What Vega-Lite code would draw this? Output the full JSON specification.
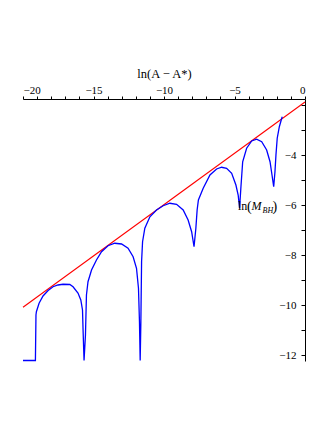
{
  "$schema": "https://vega.github.io/schema/vega-lite/v6.json",
  "autosize": "none",
  "width": 282,
  "height": 262,
  "padding": {"left": 23, "top": 99, "right": 27, "bottom": 69},
  "background": "white",
  "config": {
    "view": {"stroke": null},
    "font": "Liberation Serif",
    "axis": {"grid": false, "domainColor": "black", "tickColor": "black", "labelColor": "black", "titleColor": "black", "labelFont": "Liberation Serif", "titleFont": "Liberation Serif", "labelFontSize": 11, "titleFontWeight": "normal", "labelOverlap": false, "labelBound": false}
  },
  "datasets": {
    "mbh": [
      {"x": -20.0, "y": -12.22},
      {"x": -19.12, "y": -12.22},
      {"x": -19.08, "y": -10.4},
      {"x": -19.05, "y": -10.27},
      {"x": -18.86, "y": -9.93},
      {"x": -18.58, "y": -9.64},
      {"x": -18.22, "y": -9.42},
      {"x": -17.87, "y": -9.27},
      {"x": -17.52, "y": -9.2},
      {"x": -17.16, "y": -9.17},
      {"x": -16.68, "y": -9.18},
      {"x": -16.45, "y": -9.27},
      {"x": -16.1, "y": -9.52},
      {"x": -15.9, "y": -9.8},
      {"x": -15.78, "y": -10.2},
      {"x": -15.74, "y": -11.0},
      {"x": -15.67, "y": -12.22},
      {"x": -15.57, "y": -11.2},
      {"x": -15.5, "y": -9.6},
      {"x": -15.39, "y": -9.07},
      {"x": -15.14, "y": -8.6},
      {"x": -14.79, "y": -8.2},
      {"x": -14.43, "y": -7.87},
      {"x": -13.97, "y": -7.63},
      {"x": -13.49, "y": -7.53},
      {"x": -13.01, "y": -7.56},
      {"x": -12.55, "y": -7.73},
      {"x": -12.19, "y": -8.07},
      {"x": -11.95, "y": -8.53},
      {"x": -11.81, "y": -9.33},
      {"x": -11.74, "y": -10.67},
      {"x": -11.69, "y": -12.22},
      {"x": -11.64, "y": -10.67},
      {"x": -11.59, "y": -8.27},
      {"x": -11.52, "y": -7.47},
      {"x": -11.36, "y": -6.93},
      {"x": -11.0, "y": -6.47},
      {"x": -10.53, "y": -6.2},
      {"x": -10.06, "y": -6.03},
      {"x": -9.58, "y": -5.93},
      {"x": -9.11, "y": -5.97},
      {"x": -8.64, "y": -6.2},
      {"x": -8.29, "y": -6.6},
      {"x": -8.04, "y": -7.07},
      {"x": -7.87, "y": -7.67},
      {"x": -7.74, "y": -6.93},
      {"x": -7.65, "y": -6.2},
      {"x": -7.56, "y": -5.8},
      {"x": -7.22, "y": -5.33},
      {"x": -6.74, "y": -4.8},
      {"x": -6.27, "y": -4.56},
      {"x": -5.91, "y": -4.49},
      {"x": -5.56, "y": -4.53},
      {"x": -5.2, "y": -4.73},
      {"x": -4.9, "y": -5.2},
      {"x": -4.74, "y": -5.6},
      {"x": -4.64, "y": -6.13},
      {"x": -4.55, "y": -5.33},
      {"x": -4.42, "y": -4.27},
      {"x": -4.14, "y": -3.73},
      {"x": -3.78, "y": -3.44},
      {"x": -3.43, "y": -3.37},
      {"x": -3.07, "y": -3.47},
      {"x": -2.72, "y": -3.8},
      {"x": -2.48, "y": -4.27},
      {"x": -2.34, "y": -4.8},
      {"x": -2.22, "y": -5.27},
      {"x": -2.13, "y": -4.67},
      {"x": -2.06, "y": -4.0},
      {"x": -1.97, "y": -3.33},
      {"x": -1.82, "y": -2.87},
      {"x": -1.65, "y": -2.53},
      {"x": -1.61, "y": -2.47}
    ],
    "fit": [
      {"x": -20.0, "y": -10.09},
      {"x": 0.0, "y": -1.88}
    ]
  },
  "layer": [
    {
      "encoding": {
        "x": {"field": "x", "type": "quantitative", "scale": {"domain": [-20, 0], "nice": false, "zero": false},
          "axis": {"orient": "top", "values": [-20,-19,-18,-17,-16,-15,-14,-13,-12,-11,-10,-9,-8,-7,-6,-5,-4,-3,-2,-1,0],
            "labelExpr": "datum.value % 5 == 0 ? datum.label : ''", "tickSize": 3, "labelPadding": 1,
            "title": "ln(A − A*)", "titleFontSize": 12.5, "titlePadding": 4}},
        "y": {"field": "y", "type": "quantitative", "scale": {"domain": [-12.24, -1.76], "nice": false, "zero": false},
          "axis": {"orient": "left", "offset": -282, "values": [-12,-11,-10,-9,-8,-7,-6,-5,-4,-3,-2],
            "labelExpr": "datum.value % 2 == 0 && datum.value != -2 ? datum.label : ''", "tickSize": 4, "labelPadding": 5,
            "title": null}}
      },
      "layer": [
        {
          "data": {"name": "fit"},
          "mark": {"type": "line", "color": "#ff0000", "strokeWidth": 1.1}
        },
        {
          "data": {"name": "mbh"},
          "mark": {"type": "line", "color": "#0000ff", "strokeWidth": 1.3}
        }
      ]
    },
    {
      "data": {"values": [{}]},
      "encoding": {
        "x": {"datum": -4.75, "type": "quantitative",
          "axis": {"orient": "top", "values": [-20,-19,-18,-17,-16,-15,-14,-13,-12,-11,-10,-9,-8,-7,-6,-5,-4,-3,-2,-1,0],
            "labelExpr": "datum.value % 5 == 0 ? datum.label : ''", "tickSize": 3, "labelPadding": 1,
            "title": "ln(A − A*)", "titleFontSize": 12.5, "titlePadding": 4}},
        "y": {"datum": -6.2, "type": "quantitative",
          "axis": {"orient": "left", "offset": -282, "values": [-12,-11,-10,-9,-8,-7,-6,-5,-4,-3,-2],
            "labelExpr": "datum.value % 2 == 0 && datum.value != -2 ? datum.label : ''", "tickSize": 4, "labelPadding": 5,
            "title": null}}
      },
      "layer": [
        {"mark": {"type": "text", "text": "ln", "align": "left", "baseline": "alphabetic", "font": "Liberation Serif", "fontSize": 12, "color": "black"}},
        {"mark": {"type": "text", "text": "(", "align": "left", "baseline": "alphabetic", "dx": 9, "dy": 1, "font": "Liberation Serif", "fontSize": 14, "color": "black"}},
        {"mark": {"type": "text", "text": "M", "align": "left", "baseline": "alphabetic", "dx": 13.5, "font": "Liberation Serif", "fontStyle": "italic", "fontSize": 12, "color": "black"}},
        {"mark": {"type": "text", "text": "BH", "align": "left", "baseline": "alphabetic", "dx": 24.5, "dy": 3, "font": "Liberation Serif", "fontStyle": "italic", "fontSize": 8, "color": "black"}},
        {"mark": {"type": "text", "text": ")", "align": "left", "baseline": "alphabetic", "dx": 34.5, "dy": 1, "font": "Liberation Serif", "fontSize": 14, "color": "black"}}
      ]
    }
  ]
}
